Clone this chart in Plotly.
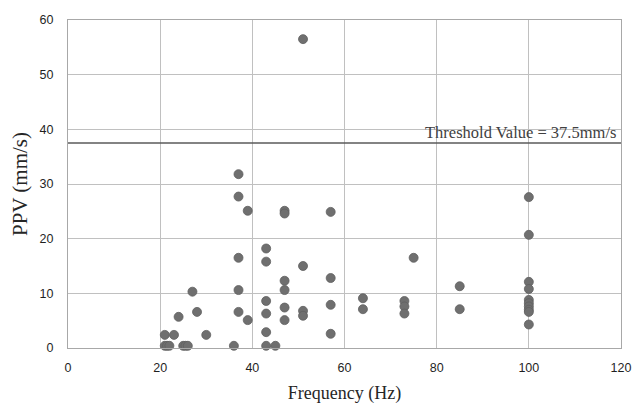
import plotly.graph_objects as go

frequency = [21, 21, 21.5, 22, 23, 24, 25, 25.5, 26, 27, 28, 30, 36,
             37, 37, 37, 37, 37, 39, 39,
             43, 43, 43, 43, 43, 43, 45,
             47, 47, 47, 47, 47, 47,
             51, 51, 51, 51,
             57, 57, 57, 57,
             64, 64, 73, 73, 73, 75, 85, 85,
             100, 100, 100, 100, 100, 100, 100, 100, 100, 100]
ppv = [2.4, 0.4, 0.4, 0.4, 2.4, 5.7, 0.4, 0.4, 0.4, 10.3, 6.6, 2.4, 0.4,
       31.8, 27.7, 16.5, 10.6, 6.6, 25.1, 5.1,
       18.2, 15.8, 8.6, 6.3, 2.9, 0.4, 0.4,
       25.1, 24.6, 12.3, 10.6, 7.4, 5.1,
       56.5, 15.0, 6.8, 5.9,
       24.9, 12.8, 7.9, 2.6,
       9.1, 7.1, 8.6, 7.6, 6.3, 16.5, 11.3, 7.1,
       27.6, 20.7, 12.1, 10.8, 8.8, 8.2, 7.6, 7.0, 6.6, 4.3]

threshold = 37.5
threshold_label = "Threshold Value = 37.5mm/s"
x_ticks = [0, 20, 40, 60, 80, 100, 120]
y_ticks = [0, 10, 20, 30, 40, 50, 60]

fig = go.Figure()
fig.add_trace(go.Scatter(
    x=frequency, y=ppv, mode="markers",
    marker=dict(size=9, color="#6f6f6f", line=dict(color="#5f5f5f", width=0.8)),
    showlegend=False, cliponaxis=False,
))
fig.add_trace(go.Scatter(
    x=[0, 120], y=[threshold, threshold], mode="lines",
    line=dict(color="#5a5a5a", width=1.6), showlegend=False, hoverinfo="skip",
))
fig.add_annotation(
    x=120, y=threshold, xref="x", yref="y", text=threshold_label,
    showarrow=False, xanchor="right", yanchor="bottom", yshift=-1, xshift=-3,
    font=dict(family="Liberation Serif", size=16.5, color="#404040"),
)

fig.update_layout(
    width=633, height=405,
    margin=dict(l=68, r=12, t=20, b=57),
    paper_bgcolor="white", plot_bgcolor="white",
    font=dict(family="Liberation Sans", size=12.5, color="#1f1f1f"),
)
fig.update_xaxes(
    range=[0, 120], tickvals=x_ticks, ticktext=[str(v) for v in x_ticks],
    showgrid=True, gridcolor="#c0c0c0", gridwidth=1,
    showline=True, linecolor="#a8a8a8", linewidth=1, mirror=True,
    zeroline=False, ticks="", ticklen=0, ticklabelstandoff=8,
    automargin=False,
    title=dict(text="Frequency (Hz)", font=dict(family="Liberation Serif", size=18, color="#262626"), standoff=12),
)
fig.update_yaxes(
    range=[0, 60], tickvals=y_ticks, ticktext=[str(v) for v in y_ticks],
    showgrid=True, gridcolor="#c0c0c0", gridwidth=1,
    showline=True, linecolor="#a8a8a8", linewidth=1, mirror=True,
    zeroline=False, ticks="", ticklen=0, ticklabelstandoff=11,
    automargin=False,
    title=dict(text="PPV (mm/s)", font=dict(family="Liberation Serif", size=21, color="#262626"), standoff=6),
)

fig.write_html(
    "out.html",
    config={"displayModeBar": False},
    post_script="document.body.style.margin='0';document.body.style.overflow='hidden';",
)
